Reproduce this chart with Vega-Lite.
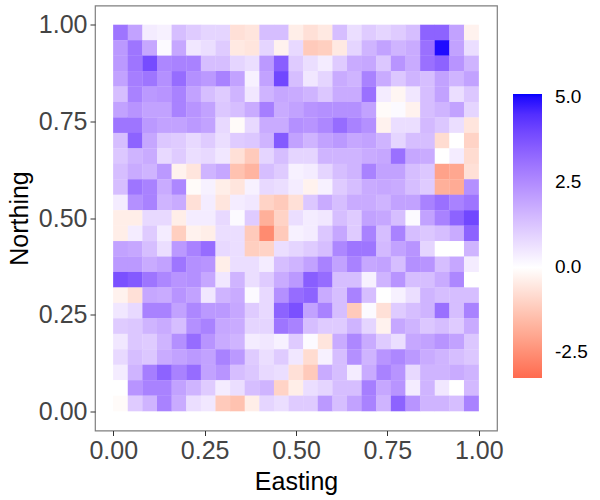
{"$schema":"https://vega.github.io/schema/vega-lite/v6.json","width":402,"height":425,"autosize":"none","padding":{"left":95,"top":5.5,"right":103,"bottom":69.5},"background":"white","config":{"font":"Liberation Sans","view":{"stroke":"#7f7f7f","strokeWidth":1.2}},"datasets":{"grid":[
{"y":0.98,"x":0.02,"v":3.0},{"y":0.98,"x":0.06,"v":2.0},{"y":0.98,"x":0.10,"v":0.4},{"y":0.98,"x":0.14,"v":0.3},{"y":0.98,"x":0.18,"v":1.4},{"y":0.98,"x":0.22,"v":1.1},{"y":0.98,"x":0.26,"v":0.9},{"y":0.98,"x":0.30,"v":0.9},{"y":0.98,"x":0.34,"v":-0.7},{"y":0.98,"x":0.38,"v":-0.6},{"y":0.98,"x":0.42,"v":1.4},{"y":0.98,"x":0.46,"v":1.4},{"y":0.98,"x":0.50,"v":-0.4},{"y":0.98,"x":0.54,"v":-0.7},{"y":0.98,"x":0.58,"v":-0.5},{"y":0.98,"x":0.62,"v":1.4},{"y":0.98,"x":0.66,"v":0.7},{"y":0.98,"x":0.70,"v":1.1},{"y":0.98,"x":0.74,"v":0.9},{"y":0.98,"x":0.78,"v":1.1},{"y":0.98,"x":0.82,"v":1.4},{"y":0.98,"x":0.86,"v":3.4},{"y":0.98,"x":0.90,"v":3.4},{"y":0.98,"x":0.94,"v":2.0},{"y":0.98,"x":0.98,"v":-0.3},
{"y":0.94,"x":0.02,"v":2.2},{"y":0.94,"x":0.06,"v":3.0},{"y":0.94,"x":0.10,"v":1.9},{"y":0.94,"x":0.14,"v":0.1},{"y":0.94,"x":0.18,"v":1.9},{"y":0.94,"x":0.22,"v":0.5},{"y":0.94,"x":0.26,"v":0.7},{"y":0.94,"x":0.30,"v":1.1},{"y":0.94,"x":0.34,"v":-0.5},{"y":0.94,"x":0.38,"v":-0.6},{"y":0.94,"x":0.42,"v":0.9},{"y":0.94,"x":0.46,"v":-0.3},{"y":0.94,"x":0.50,"v":0.8},{"y":0.94,"x":0.54,"v":-1.2},{"y":0.94,"x":0.58,"v":-1.1},{"y":0.94,"x":0.62,"v":-0.5},{"y":0.94,"x":0.66,"v":0.9},{"y":0.94,"x":0.70,"v":1.6},{"y":0.94,"x":0.74,"v":2.0},{"y":0.94,"x":0.78,"v":1.6},{"y":0.94,"x":0.82,"v":1.8},{"y":0.94,"x":0.86,"v":3.1},{"y":0.94,"x":0.90,"v":5.0},{"y":0.94,"x":0.94,"v":2.0},{"y":0.94,"x":0.98,"v":0.7},
{"y":0.90,"x":0.02,"v":2.2},{"y":0.90,"x":0.06,"v":3.0},{"y":0.90,"x":0.10,"v":3.9},{"y":0.90,"x":0.14,"v":2.6},{"y":0.90,"x":0.18,"v":2.7},{"y":0.90,"x":0.22,"v":2.7},{"y":0.90,"x":0.26,"v":1.4},{"y":0.90,"x":0.30,"v":1.4},{"y":0.90,"x":0.34,"v":0.9},{"y":0.90,"x":0.38,"v":0.7},{"y":0.90,"x":0.42,"v":2.2},{"y":0.90,"x":0.46,"v":3.5},{"y":0.90,"x":0.50,"v":1.1},{"y":0.90,"x":0.54,"v":0.7},{"y":0.90,"x":0.58,"v":0.4},{"y":0.90,"x":0.62,"v":1.1},{"y":0.90,"x":0.66,"v":1.8},{"y":0.90,"x":0.70,"v":1.9},{"y":0.90,"x":0.74,"v":1.2},{"y":0.90,"x":0.78,"v":2.3},{"y":0.90,"x":0.82,"v":1.8},{"y":0.90,"x":0.86,"v":3.1},{"y":0.90,"x":0.90,"v":3.4},{"y":0.90,"x":0.94,"v":2.3},{"y":0.90,"x":0.98,"v":1.6},
{"y":0.86,"x":0.02,"v":2.0},{"y":0.86,"x":0.06,"v":2.8},{"y":0.86,"x":0.10,"v":3.0},{"y":0.86,"x":0.14,"v":2.4},{"y":0.86,"x":0.18,"v":3.2},{"y":0.86,"x":0.22,"v":2.4},{"y":0.86,"x":0.26,"v":2.2},{"y":0.86,"x":0.30,"v":2.7},{"y":0.86,"x":0.34,"v":2.0},{"y":0.86,"x":0.38,"v":0.3},{"y":0.86,"x":0.42,"v":2.0},{"y":0.86,"x":0.46,"v":4.0},{"y":0.86,"x":0.50,"v":1.4},{"y":0.86,"x":0.54,"v":0.5},{"y":0.86,"x":0.58,"v":0.9},{"y":0.86,"x":0.62,"v":1.8},{"y":0.86,"x":0.66,"v":1.6},{"y":0.86,"x":0.70,"v":2.7},{"y":0.86,"x":0.74,"v":1.8},{"y":0.86,"x":0.78,"v":1.2},{"y":0.86,"x":0.82,"v":1.6},{"y":0.86,"x":0.86,"v":1.4},{"y":0.86,"x":0.90,"v":2.0},{"y":0.86,"x":0.94,"v":1.6},{"y":0.86,"x":0.98,"v":2.0},
{"y":0.82,"x":0.02,"v":1.4},{"y":0.82,"x":0.06,"v":2.7},{"y":0.82,"x":0.10,"v":2.2},{"y":0.82,"x":0.14,"v":2.3},{"y":0.82,"x":0.18,"v":2.7},{"y":0.82,"x":0.22,"v":2.0},{"y":0.82,"x":0.26,"v":1.4},{"y":0.82,"x":0.30,"v":1.1},{"y":0.82,"x":0.34,"v":1.6},{"y":0.82,"x":0.38,"v":0.5},{"y":0.82,"x":0.42,"v":1.6},{"y":0.82,"x":0.46,"v":1.9},{"y":0.82,"x":0.50,"v":1.8},{"y":0.82,"x":0.54,"v":1.6},{"y":0.82,"x":0.58,"v":1.2},{"y":0.82,"x":0.62,"v":1.8},{"y":0.82,"x":0.66,"v":1.8},{"y":0.82,"x":0.70,"v":3.1},{"y":0.82,"x":0.74,"v":0.4},{"y":0.82,"x":0.78,"v":-0.2},{"y":0.82,"x":0.82,"v":0.5},{"y":0.82,"x":0.86,"v":1.4},{"y":0.82,"x":0.90,"v":2.0},{"y":0.82,"x":0.94,"v":0.7},{"y":0.82,"x":0.98,"v":1.2},
{"y":0.78,"x":0.02,"v":2.0},{"y":0.78,"x":0.06,"v":2.3},{"y":0.78,"x":0.10,"v":2.0},{"y":0.78,"x":0.14,"v":2.0},{"y":0.78,"x":0.18,"v":2.7},{"y":0.78,"x":0.22,"v":2.3},{"y":0.78,"x":0.26,"v":2.0},{"y":0.78,"x":0.30,"v":1.2},{"y":0.78,"x":0.34,"v":1.4},{"y":0.78,"x":0.38,"v":1.8},{"y":0.78,"x":0.42,"v":2.8},{"y":0.78,"x":0.46,"v":1.8},{"y":0.78,"x":0.50,"v":2.0},{"y":0.78,"x":0.54,"v":2.3},{"y":0.78,"x":0.58,"v":2.4},{"y":0.78,"x":0.62,"v":2.4},{"y":0.78,"x":0.66,"v":2.4},{"y":0.78,"x":0.70,"v":2.0},{"y":0.78,"x":0.74,"v":-0.1},{"y":0.78,"x":0.78,"v":0.1},{"y":0.78,"x":0.82,"v":-0.3},{"y":0.78,"x":0.86,"v":1.4},{"y":0.78,"x":0.90,"v":1.6},{"y":0.78,"x":0.94,"v":2.0},{"y":0.78,"x":0.98,"v":0.9},
{"y":0.74,"x":0.02,"v":3.0},{"y":0.74,"x":0.06,"v":3.0},{"y":0.74,"x":0.10,"v":2.2},{"y":0.74,"x":0.14,"v":2.0},{"y":0.74,"x":0.18,"v":2.0},{"y":0.74,"x":0.22,"v":2.2},{"y":0.74,"x":0.26,"v":2.0},{"y":0.74,"x":0.30,"v":0.8},{"y":0.74,"x":0.34,"v":-0.1},{"y":0.74,"x":0.38,"v":0.8},{"y":0.74,"x":0.42,"v":1.8},{"y":0.74,"x":0.46,"v":1.8},{"y":0.74,"x":0.50,"v":2.4},{"y":0.74,"x":0.54,"v":2.3},{"y":0.74,"x":0.58,"v":2.6},{"y":0.74,"x":0.62,"v":3.2},{"y":0.74,"x":0.66,"v":2.7},{"y":0.74,"x":0.70,"v":2.4},{"y":0.74,"x":0.74,"v":-0.3},{"y":0.74,"x":0.78,"v":0.7},{"y":0.74,"x":0.82,"v":0.7},{"y":0.74,"x":0.86,"v":1.5},{"y":0.74,"x":0.90,"v":1.2},{"y":0.74,"x":0.94,"v":0.7},{"y":0.74,"x":0.98,"v":-0.6},
{"y":0.70,"x":0.02,"v":1.4},{"y":0.70,"x":0.06,"v":3.4},{"y":0.70,"x":0.10,"v":1.9},{"y":0.70,"x":0.14,"v":1.2},{"y":0.70,"x":0.18,"v":1.1},{"y":0.70,"x":0.22,"v":0.8},{"y":0.70,"x":0.26,"v":1.1},{"y":0.70,"x":0.30,"v":0.7},{"y":0.70,"x":0.34,"v":1.1},{"y":0.70,"x":0.38,"v":1.2},{"y":0.70,"x":0.42,"v":1.6},{"y":0.70,"x":0.46,"v":3.6},{"y":0.70,"x":0.50,"v":2.0},{"y":0.70,"x":0.54,"v":1.6},{"y":0.70,"x":0.58,"v":2.0},{"y":0.70,"x":0.62,"v":2.2},{"y":0.70,"x":0.66,"v":1.9},{"y":0.70,"x":0.70,"v":2.0},{"y":0.70,"x":0.74,"v":1.6},{"y":0.70,"x":0.78,"v":0.9},{"y":0.70,"x":0.82,"v":1.4},{"y":0.70,"x":0.86,"v":1.4},{"y":0.70,"x":0.90,"v":-0.8},{"y":0.70,"x":0.94,"v":0.0},{"y":0.70,"x":0.98,"v":-1.0},
{"y":0.66,"x":0.02,"v":1.2},{"y":0.66,"x":0.06,"v":1.6},{"y":0.66,"x":0.10,"v":1.8},{"y":0.66,"x":0.14,"v":0.8},{"y":0.66,"x":0.18,"v":1.1},{"y":0.66,"x":0.22,"v":0.7},{"y":0.66,"x":0.26,"v":0.8},{"y":0.66,"x":0.30,"v":0.5},{"y":0.66,"x":0.34,"v":-0.7},{"y":0.66,"x":0.38,"v":-1.2},{"y":0.66,"x":0.42,"v":0.9},{"y":0.66,"x":0.46,"v":1.4},{"y":0.66,"x":0.50,"v":0.9},{"y":0.66,"x":0.54,"v":0.9},{"y":0.66,"x":0.58,"v":1.6},{"y":0.66,"x":0.62,"v":1.6},{"y":0.66,"x":0.66,"v":1.6},{"y":0.66,"x":0.70,"v":1.8},{"y":0.66,"x":0.74,"v":1.9},{"y":0.66,"x":0.78,"v":3.1},{"y":0.66,"x":0.82,"v":1.9},{"y":0.66,"x":0.86,"v":1.8},{"y":0.66,"x":0.90,"v":0.0},{"y":0.66,"x":0.94,"v":0.4},{"y":0.66,"x":0.98,"v":-0.8},
{"y":0.62,"x":0.02,"v":1.4},{"y":0.62,"x":0.06,"v":1.8},{"y":0.62,"x":0.10,"v":1.6},{"y":0.62,"x":0.14,"v":2.2},{"y":0.62,"x":0.18,"v":-0.3},{"y":0.62,"x":0.22,"v":-0.6},{"y":0.62,"x":0.26,"v":1.6},{"y":0.62,"x":0.30,"v":1.9},{"y":0.62,"x":0.34,"v":-1.4},{"y":0.62,"x":0.38,"v":-1.7},{"y":0.62,"x":0.42,"v":1.4},{"y":0.62,"x":0.46,"v":1.1},{"y":0.62,"x":0.50,"v":0.3},{"y":0.62,"x":0.54,"v":0.4},{"y":0.62,"x":0.58,"v":0.9},{"y":0.62,"x":0.62,"v":1.4},{"y":0.62,"x":0.66,"v":1.6},{"y":0.62,"x":0.70,"v":2.7},{"y":0.62,"x":0.74,"v":2.0},{"y":0.62,"x":0.78,"v":2.0},{"y":0.62,"x":0.82,"v":1.4},{"y":0.62,"x":0.86,"v":1.2},{"y":0.62,"x":0.90,"v":-2.1},{"y":0.62,"x":0.94,"v":-2.0},{"y":0.62,"x":0.98,"v":-0.7},
{"y":0.58,"x":0.02,"v":1.4},{"y":0.58,"x":0.06,"v":3.0},{"y":0.58,"x":0.10,"v":2.7},{"y":0.58,"x":0.14,"v":1.8},{"y":0.58,"x":0.18,"v":2.6},{"y":0.58,"x":0.22,"v":-0.1},{"y":0.58,"x":0.26,"v":0.3},{"y":0.58,"x":0.30,"v":-0.4},{"y":0.58,"x":0.34,"v":-0.6},{"y":0.58,"x":0.38,"v":0.3},{"y":0.58,"x":0.42,"v":0.8},{"y":0.58,"x":0.46,"v":0.7},{"y":0.58,"x":0.50,"v":0.4},{"y":0.58,"x":0.54,"v":-0.3},{"y":0.58,"x":0.58,"v":0.3},{"y":0.58,"x":0.62,"v":1.1},{"y":0.58,"x":0.66,"v":1.4},{"y":0.58,"x":0.70,"v":1.8},{"y":0.58,"x":0.74,"v":1.9},{"y":0.58,"x":0.78,"v":1.8},{"y":0.58,"x":0.82,"v":1.4},{"y":0.58,"x":0.86,"v":1.1},{"y":0.58,"x":0.90,"v":-1.8},{"y":0.58,"x":0.94,"v":-1.9},{"y":0.58,"x":0.98,"v":2.4},
{"y":0.54,"x":0.02,"v":0.4},{"y":0.54,"x":0.06,"v":2.4},{"y":0.54,"x":0.10,"v":2.7},{"y":0.54,"x":0.14,"v":1.6},{"y":0.54,"x":0.18,"v":1.8},{"y":0.54,"x":0.22,"v":-0.7},{"y":0.54,"x":0.26,"v":0.4},{"y":0.54,"x":0.30,"v":-0.6},{"y":0.54,"x":0.34,"v":0.4},{"y":0.54,"x":0.38,"v":0.5},{"y":0.54,"x":0.42,"v":-1.0},{"y":0.54,"x":0.46,"v":-1.2},{"y":0.54,"x":0.50,"v":-0.7},{"y":0.54,"x":0.54,"v":1.2},{"y":0.54,"x":0.58,"v":1.8},{"y":0.54,"x":0.62,"v":1.4},{"y":0.54,"x":0.66,"v":1.8},{"y":0.54,"x":0.70,"v":1.8},{"y":0.54,"x":0.74,"v":1.6},{"y":0.54,"x":0.78,"v":2.0},{"y":0.54,"x":0.82,"v":2.0},{"y":0.54,"x":0.86,"v":2.7},{"y":0.54,"x":0.90,"v":3.1},{"y":0.54,"x":0.94,"v":2.7},{"y":0.54,"x":0.98,"v":3.0},
{"y":0.50,"x":0.02,"v":-0.4},{"y":0.50,"x":0.06,"v":-0.4},{"y":0.50,"x":0.10,"v":0.8},{"y":0.50,"x":0.14,"v":0.8},{"y":0.50,"x":0.18,"v":-0.4},{"y":0.50,"x":0.22,"v":0.4},{"y":0.50,"x":0.26,"v":0.4},{"y":0.50,"x":0.30,"v":0.8},{"y":0.50,"x":0.34,"v":0.1},{"y":0.50,"x":0.38,"v":1.1},{"y":0.50,"x":0.42,"v":-1.8},{"y":0.50,"x":0.46,"v":-1.0},{"y":0.50,"x":0.50,"v":0.7},{"y":0.50,"x":0.54,"v":0.4},{"y":0.50,"x":0.58,"v":0.5},{"y":0.50,"x":0.62,"v":1.4},{"y":0.50,"x":0.66,"v":1.1},{"y":0.50,"x":0.70,"v":2.0},{"y":0.50,"x":0.74,"v":1.9},{"y":0.50,"x":0.78,"v":1.4},{"y":0.50,"x":0.82,"v":0.1},{"y":0.50,"x":0.86,"v":2.0},{"y":0.50,"x":0.90,"v":2.7},{"y":0.50,"x":0.94,"v":3.4},{"y":0.50,"x":0.98,"v":4.0},
{"y":0.46,"x":0.02,"v":-0.4},{"y":0.46,"x":0.06,"v":0.4},{"y":0.46,"x":0.10,"v":1.1},{"y":0.46,"x":0.14,"v":0.4},{"y":0.46,"x":0.18,"v":-1.1},{"y":0.46,"x":0.22,"v":-0.3},{"y":0.46,"x":0.26,"v":-0.4},{"y":0.46,"x":0.30,"v":0.7},{"y":0.46,"x":0.34,"v":0.7},{"y":0.46,"x":0.38,"v":-1.2},{"y":0.46,"x":0.42,"v":-2.6},{"y":0.46,"x":0.46,"v":-1.2},{"y":0.46,"x":0.50,"v":0.3},{"y":0.46,"x":0.54,"v":0.4},{"y":0.46,"x":0.58,"v":1.2},{"y":0.46,"x":0.62,"v":1.9},{"y":0.46,"x":0.66,"v":1.1},{"y":0.46,"x":0.70,"v":2.7},{"y":0.46,"x":0.74,"v":1.4},{"y":0.46,"x":0.78,"v":2.7},{"y":0.46,"x":0.82,"v":1.4},{"y":0.46,"x":0.86,"v":1.2},{"y":0.46,"x":0.90,"v":1.4},{"y":0.46,"x":0.94,"v":1.8},{"y":0.46,"x":0.98,"v":3.4},
{"y":0.42,"x":0.02,"v":2.0},{"y":0.42,"x":0.06,"v":1.9},{"y":0.42,"x":0.10,"v":1.4},{"y":0.42,"x":0.14,"v":0.7},{"y":0.42,"x":0.18,"v":2.2},{"y":0.42,"x":0.22,"v":2.7},{"y":0.42,"x":0.26,"v":3.2},{"y":0.42,"x":0.30,"v":0.8},{"y":0.42,"x":0.34,"v":0.7},{"y":0.42,"x":0.38,"v":-1.1},{"y":0.42,"x":0.42,"v":-1.0},{"y":0.42,"x":0.46,"v":0.7},{"y":0.42,"x":0.50,"v":0.9},{"y":0.42,"x":0.54,"v":1.1},{"y":0.42,"x":0.58,"v":1.4},{"y":0.42,"x":0.62,"v":2.6},{"y":0.42,"x":0.66,"v":3.0},{"y":0.42,"x":0.70,"v":3.0},{"y":0.42,"x":0.74,"v":1.5},{"y":0.42,"x":0.78,"v":2.0},{"y":0.42,"x":0.82,"v":2.3},{"y":0.42,"x":0.86,"v":0.9},{"y":0.42,"x":0.90,"v":0.0},{"y":0.42,"x":0.94,"v":0.0},{"y":0.42,"x":0.98,"v":1.6},
{"y":0.38,"x":0.02,"v":2.2},{"y":0.38,"x":0.06,"v":2.2},{"y":0.38,"x":0.10,"v":1.8},{"y":0.38,"x":0.14,"v":2.0},{"y":0.38,"x":0.18,"v":3.0},{"y":0.38,"x":0.22,"v":2.4},{"y":0.38,"x":0.26,"v":2.3},{"y":0.38,"x":0.30,"v":-0.4},{"y":0.38,"x":0.34,"v":0.7},{"y":0.38,"x":0.38,"v":0.7},{"y":0.38,"x":0.42,"v":0.4},{"y":0.38,"x":0.46,"v":1.4},{"y":0.38,"x":0.50,"v":1.6},{"y":0.38,"x":0.54,"v":2.0},{"y":0.38,"x":0.58,"v":2.7},{"y":0.38,"x":0.62,"v":2.0},{"y":0.38,"x":0.66,"v":2.7},{"y":0.38,"x":0.70,"v":1.9},{"y":0.38,"x":0.74,"v":2.0},{"y":0.38,"x":0.78,"v":1.4},{"y":0.38,"x":0.82,"v":2.4},{"y":0.38,"x":0.86,"v":2.3},{"y":0.38,"x":0.90,"v":1.4},{"y":0.38,"x":0.94,"v":1.9},{"y":0.38,"x":0.98,"v":0.4},
{"y":0.34,"x":0.02,"v":3.8},{"y":0.34,"x":0.06,"v":3.6},{"y":0.34,"x":0.10,"v":3.0},{"y":0.34,"x":0.14,"v":2.6},{"y":0.34,"x":0.18,"v":2.3},{"y":0.34,"x":0.22,"v":2.4},{"y":0.34,"x":0.26,"v":1.9},{"y":0.34,"x":0.30,"v":0.5},{"y":0.34,"x":0.34,"v":1.6},{"y":0.34,"x":0.38,"v":0.7},{"y":0.34,"x":0.42,"v":1.1},{"y":0.34,"x":0.46,"v":1.8},{"y":0.34,"x":0.50,"v":2.2},{"y":0.34,"x":0.54,"v":3.5},{"y":0.34,"x":0.58,"v":3.2},{"y":0.34,"x":0.62,"v":1.4},{"y":0.34,"x":0.66,"v":1.4},{"y":0.34,"x":0.70,"v":0.3},{"y":0.34,"x":0.74,"v":1.6},{"y":0.34,"x":0.78,"v":2.3},{"y":0.34,"x":0.82,"v":1.4},{"y":0.34,"x":0.86,"v":1.4},{"y":0.34,"x":0.90,"v":1.8},{"y":0.34,"x":0.94,"v":2.6},{"y":0.34,"x":0.98,"v":0.0},
{"y":0.30,"x":0.02,"v":-0.3},{"y":0.30,"x":0.06,"v":-0.7},{"y":0.30,"x":0.10,"v":1.9},{"y":0.30,"x":0.14,"v":1.8},{"y":0.30,"x":0.18,"v":2.3},{"y":0.30,"x":0.22,"v":2.0},{"y":0.30,"x":0.26,"v":0.5},{"y":0.30,"x":0.30,"v":1.6},{"y":0.30,"x":0.34,"v":1.8},{"y":0.30,"x":0.38,"v":0.1},{"y":0.30,"x":0.42,"v":0.8},{"y":0.30,"x":0.46,"v":2.4},{"y":0.30,"x":0.50,"v":3.2},{"y":0.30,"x":0.54,"v":3.4},{"y":0.30,"x":0.58,"v":1.8},{"y":0.30,"x":0.62,"v":1.4},{"y":0.30,"x":0.66,"v":2.7},{"y":0.30,"x":0.70,"v":1.4},{"y":0.30,"x":0.74,"v":0.0},{"y":0.30,"x":0.78,"v":0.3},{"y":0.30,"x":0.82,"v":0.7},{"y":0.30,"x":0.86,"v":1.6},{"y":0.30,"x":0.90,"v":1.4},{"y":0.30,"x":0.94,"v":1.4},{"y":0.30,"x":0.98,"v":1.4},
{"y":0.26,"x":0.02,"v":0.5},{"y":0.26,"x":0.06,"v":0.8},{"y":0.26,"x":0.10,"v":2.7},{"y":0.26,"x":0.14,"v":2.7},{"y":0.26,"x":0.18,"v":2.0},{"y":0.26,"x":0.22,"v":2.6},{"y":0.26,"x":0.26,"v":2.2},{"y":0.26,"x":0.30,"v":2.2},{"y":0.26,"x":0.34,"v":1.9},{"y":0.26,"x":0.38,"v":1.1},{"y":0.26,"x":0.42,"v":0.8},{"y":0.26,"x":0.46,"v":3.4},{"y":0.26,"x":0.50,"v":3.8},{"y":0.26,"x":0.54,"v":2.0},{"y":0.26,"x":0.58,"v":2.7},{"y":0.26,"x":0.62,"v":1.4},{"y":0.26,"x":0.66,"v":-1.2},{"y":0.26,"x":0.70,"v":0.1},{"y":0.26,"x":0.74,"v":-0.7},{"y":0.26,"x":0.78,"v":1.1},{"y":0.26,"x":0.82,"v":1.4},{"y":0.26,"x":0.86,"v":1.6},{"y":0.26,"x":0.90,"v":3.1},{"y":0.26,"x":0.94,"v":1.4},{"y":0.26,"x":0.98,"v":2.7},
{"y":0.22,"x":0.02,"v":1.1},{"y":0.22,"x":0.06,"v":1.2},{"y":0.22,"x":0.10,"v":1.6},{"y":0.22,"x":0.14,"v":1.8},{"y":0.22,"x":0.18,"v":1.4},{"y":0.22,"x":0.22,"v":2.4},{"y":0.22,"x":0.26,"v":2.7},{"y":0.22,"x":0.30,"v":1.9},{"y":0.22,"x":0.34,"v":1.8},{"y":0.22,"x":0.38,"v":0.9},{"y":0.22,"x":0.42,"v":0.9},{"y":0.22,"x":0.46,"v":3.0},{"y":0.22,"x":0.50,"v":2.7},{"y":0.22,"x":0.54,"v":1.4},{"y":0.22,"x":0.58,"v":1.1},{"y":0.22,"x":0.62,"v":1.1},{"y":0.22,"x":0.66,"v":1.6},{"y":0.22,"x":0.70,"v":0.9},{"y":0.22,"x":0.74,"v":-0.3},{"y":0.22,"x":0.78,"v":1.9},{"y":0.22,"x":0.82,"v":1.6},{"y":0.22,"x":0.86,"v":1.2},{"y":0.22,"x":0.90,"v":1.4},{"y":0.22,"x":0.94,"v":1.1},{"y":0.22,"x":0.98,"v":1.8},
{"y":0.18,"x":0.02,"v":0.5},{"y":0.18,"x":0.06,"v":1.2},{"y":0.18,"x":0.10,"v":1.1},{"y":0.18,"x":0.14,"v":1.6},{"y":0.18,"x":0.18,"v":2.4},{"y":0.18,"x":0.22,"v":3.2},{"y":0.18,"x":0.26,"v":2.3},{"y":0.18,"x":0.30,"v":1.8},{"y":0.18,"x":0.34,"v":1.6},{"y":0.18,"x":0.38,"v":0.4},{"y":0.18,"x":0.42,"v":0.5},{"y":0.18,"x":0.46,"v":0.3},{"y":0.18,"x":0.50,"v":1.1},{"y":0.18,"x":0.54,"v":0.1},{"y":0.18,"x":0.58,"v":-0.6},{"y":0.18,"x":0.62,"v":1.8},{"y":0.18,"x":0.66,"v":2.6},{"y":0.18,"x":0.70,"v":1.8},{"y":0.18,"x":0.74,"v":1.1},{"y":0.18,"x":0.78,"v":0.7},{"y":0.18,"x":0.82,"v":1.9},{"y":0.18,"x":0.86,"v":2.0},{"y":0.18,"x":0.90,"v":2.3},{"y":0.18,"x":0.94,"v":2.0},{"y":0.18,"x":0.98,"v":1.2},
{"y":0.14,"x":0.02,"v":0.8},{"y":0.14,"x":0.06,"v":1.4},{"y":0.14,"x":0.10,"v":1.2},{"y":0.14,"x":0.14,"v":1.8},{"y":0.14,"x":0.18,"v":2.0},{"y":0.14,"x":0.22,"v":2.2},{"y":0.14,"x":0.26,"v":2.0},{"y":0.14,"x":0.30,"v":2.7},{"y":0.14,"x":0.34,"v":2.2},{"y":0.14,"x":0.38,"v":1.1},{"y":0.14,"x":0.42,"v":0.7},{"y":0.14,"x":0.46,"v":1.1},{"y":0.14,"x":0.50,"v":0.5},{"y":0.14,"x":0.54,"v":-0.8},{"y":0.14,"x":0.58,"v":0.3},{"y":0.14,"x":0.62,"v":1.4},{"y":0.14,"x":0.66,"v":2.4},{"y":0.14,"x":0.70,"v":1.6},{"y":0.14,"x":0.74,"v":2.3},{"y":0.14,"x":0.78,"v":2.6},{"y":0.14,"x":0.82,"v":2.2},{"y":0.14,"x":0.86,"v":1.8},{"y":0.14,"x":0.90,"v":1.6},{"y":0.14,"x":0.94,"v":1.4},{"y":0.14,"x":0.98,"v":1.2},
{"y":0.10,"x":0.02,"v":0.4},{"y":0.10,"x":0.06,"v":1.6},{"y":0.10,"x":0.10,"v":2.8},{"y":0.10,"x":0.14,"v":3.4},{"y":0.10,"x":0.18,"v":2.7},{"y":0.10,"x":0.22,"v":3.2},{"y":0.10,"x":0.26,"v":2.0},{"y":0.10,"x":0.30,"v":2.3},{"y":0.10,"x":0.34,"v":1.4},{"y":0.10,"x":0.38,"v":1.2},{"y":0.10,"x":0.42,"v":0.8},{"y":0.10,"x":0.46,"v":0.7},{"y":0.10,"x":0.50,"v":-0.7},{"y":0.10,"x":0.54,"v":-1.2},{"y":0.10,"x":0.58,"v":1.8},{"y":0.10,"x":0.62,"v":1.4},{"y":0.10,"x":0.66,"v":0.4},{"y":0.10,"x":0.70,"v":1.8},{"y":0.10,"x":0.74,"v":2.7},{"y":0.10,"x":0.78,"v":2.3},{"y":0.10,"x":0.82,"v":0.8},{"y":0.10,"x":0.86,"v":1.6},{"y":0.10,"x":0.90,"v":1.6},{"y":0.10,"x":0.94,"v":1.8},{"y":0.10,"x":0.98,"v":1.6},
{"y":0.06,"x":0.02,"v":0.0},{"y":0.06,"x":0.06,"v":2.3},{"y":0.06,"x":0.10,"v":2.7},{"y":0.06,"x":0.14,"v":2.7},{"y":0.06,"x":0.18,"v":2.0},{"y":0.06,"x":0.22,"v":1.6},{"y":0.06,"x":0.26,"v":1.1},{"y":0.06,"x":0.30,"v":0.4},{"y":0.06,"x":0.34,"v":0.7},{"y":0.06,"x":0.38,"v":1.4},{"y":0.06,"x":0.42,"v":1.6},{"y":0.06,"x":0.46,"v":-1.0},{"y":0.06,"x":0.50,"v":-0.4},{"y":0.06,"x":0.54,"v":0.7},{"y":0.06,"x":0.58,"v":0.9},{"y":0.06,"x":0.62,"v":1.4},{"y":0.06,"x":0.66,"v":1.4},{"y":0.06,"x":0.70,"v":2.8},{"y":0.06,"x":0.74,"v":1.9},{"y":0.06,"x":0.78,"v":2.3},{"y":0.06,"x":0.82,"v":0.4},{"y":0.06,"x":0.86,"v":1.6},{"y":0.06,"x":0.90,"v":0.5},{"y":0.06,"x":0.94,"v":0.0},{"y":0.06,"x":0.98,"v":1.5},
{"y":0.02,"x":0.02,"v":-0.1},{"y":0.02,"x":0.06,"v":1.1},{"y":0.02,"x":0.10,"v":1.6},{"y":0.02,"x":0.14,"v":2.7},{"y":0.02,"x":0.18,"v":1.8},{"y":0.02,"x":0.22,"v":0.7},{"y":0.02,"x":0.26,"v":0.5},{"y":0.02,"x":0.30,"v":-1.2},{"y":0.02,"x":0.34,"v":-1.4},{"y":0.02,"x":0.38,"v":-0.4},{"y":0.02,"x":0.42,"v":0.9},{"y":0.02,"x":0.46,"v":0.7},{"y":0.02,"x":0.50,"v":1.1},{"y":0.02,"x":0.54,"v":1.1},{"y":0.02,"x":0.58,"v":2.2},{"y":0.02,"x":0.62,"v":1.4},{"y":0.02,"x":0.66,"v":2.0},{"y":0.02,"x":0.70,"v":2.7},{"y":0.02,"x":0.74,"v":1.6},{"y":0.02,"x":0.78,"v":3.4},{"y":0.02,"x":0.82,"v":2.3},{"y":0.02,"x":0.86,"v":1.6},{"y":0.02,"x":0.90,"v":1.6},{"y":0.02,"x":0.94,"v":1.4},{"y":0.02,"x":0.98,"v":2.7}
]},"data":{"name":"grid"},"mark":{"type":"rect","width":14.9,"height":15.7},"encoding":{"x":{"field":"x","type":"quantitative","scale":{"domain":[-0.05,1.05],"nice":false,"zero":false},"axis":{"title":"Easting","values":[0,0.25,0.5,0.75,1],"format":".2f","grid":false,"domain":false,"labelFontSize":25,"titleFontSize":25,"labelColor":"#444444","titleColor":"#000000","titleFontWeight":"normal","tickColor":"#333333","tickSize":5,"labelPadding":3,"titlePadding":6}},"y":{"field":"y","type":"quantitative","scale":{"domain":[-0.05,1.05],"nice":false,"zero":false},"axis":{"title":"Northing","values":[0,0.25,0.5,0.75,1],"format":".2f","grid":false,"domain":false,"labelFontSize":25,"titleFontSize":25,"labelColor":"#444444","titleColor":"#000000","titleFontWeight":"normal","tickColor":"#333333","tickSize":5,"labelPadding":3,"titlePadding":6}},"color":{"field":"v","type":"quantitative","scale":{"domain":[-3.25,0,5.1],"range":["#ff6a4f","#ffffff","#0000ff"],"interpolate":"lab"},"legend":{"title":null,"orient":"none","legendX":418,"legendY":88.5,"gradientLength":284,"gradientThickness":29,"gradientStrokeWidth":0,"values":[-2.5,0,2.5,5],"labelExpr":"replace(format(datum.value,'.1f'),'−','-')","labelFontSize":19,"labelColor":"#000000","labelOffset":13}}}}
